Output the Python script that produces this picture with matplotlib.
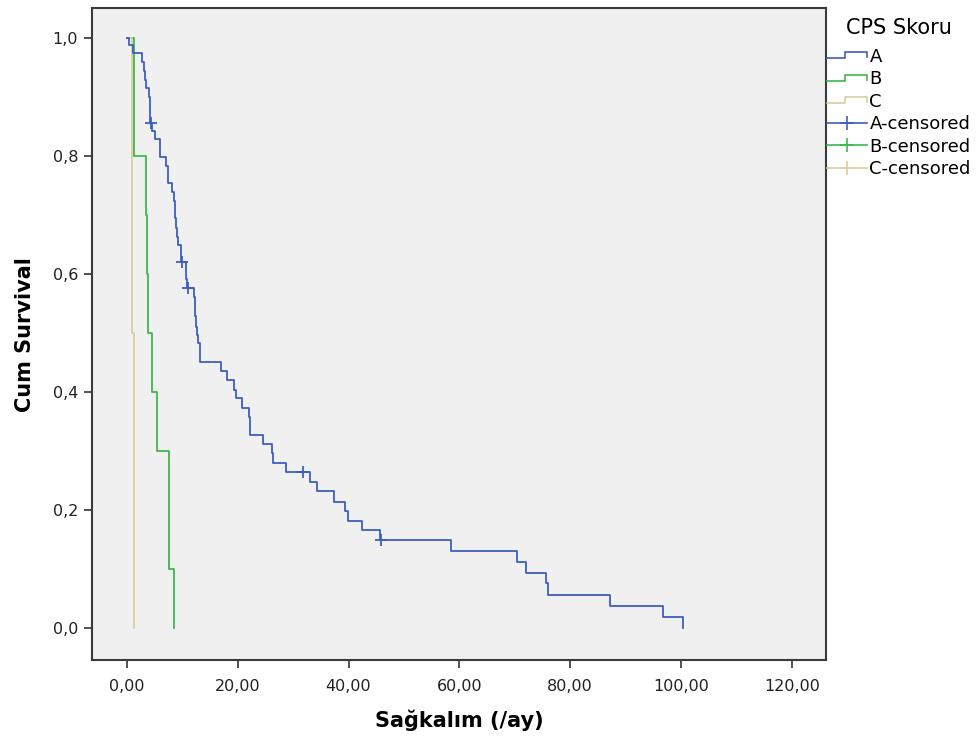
import matplotlib
matplotlib.use("Agg")
import matplotlib.pyplot as plt
from matplotlib.lines import Line2D
from matplotlib.legend_handler import HandlerBase

# Kaplan-Meier estimates: time of each drop and survival after the drop
a_times = [0.0, 0.4, 1.1, 2.7, 3.1, 3.2, 3.4, 4.0, 4.1, 4.2, 4.25, 4.5, 5.1,
           6.0, 6.05, 7.0, 7.4, 7.5, 8.1, 8.5, 8.6, 8.7, 8.85, 8.95, 9.2,
           9.75, 9.85, 10.6, 10.7, 10.85, 12.1, 12.2, 12.3, 12.45, 12.6, 12.9,
           13.15, 13.25, 17.0, 18.05, 19.3, 19.7, 20.8, 22.0, 22.2, 22.3, 24.5,
           26.2, 26.4, 28.7, 33.0, 34.3, 37.4, 39.4, 39.9, 42.4, 45.7, 58.5,
           70.4, 72.0, 75.6, 76.0, 87.2, 96.8, 100.4]
a_surv = [1.000, 0.988, 0.975, 0.959, 0.944, 0.929, 0.915, 0.900, 0.885,
          0.871, 0.856, 0.842, 0.829, 0.813, 0.798, 0.783, 0.768, 0.754,
          0.739, 0.724, 0.708, 0.695, 0.678, 0.663, 0.649, 0.634, 0.620,
          0.607, 0.592, 0.576, 0.561, 0.546, 0.529, 0.510, 0.497, 0.483,
          0.468, 0.451, 0.436, 0.420, 0.403, 0.390, 0.373, 0.358, 0.342,
          0.327, 0.312, 0.297, 0.280, 0.264, 0.247, 0.232, 0.214, 0.198,
          0.181, 0.166, 0.149, 0.130, 0.112, 0.093, 0.076, 0.057, 0.037,
          0.019, 0.000]
a_cens_t = [4.35, 9.9, 11.0, 31.8, 45.9]
a_cens_s = [0.856, 0.620, 0.576, 0.264, 0.149]

b_times = [0.0, 1.3, 3.4, 3.6, 3.8, 4.5, 5.4, 7.6, 8.5]
b_surv = [1.0, 0.8, 0.7, 0.6, 0.5, 0.4, 0.3, 0.1, 0.0]

c_times = [0.0, 0.85, 1.2]
c_surv = [1.0, 0.5, 0.0]

groups = ["A", "B", "C"]
colors = {"A": "#3d5ebf", "B": "#3fb84e", "C": "#d6cf9f"}

x_ticks = [0, 20, 40, 60, 80, 100, 120]
x_labels = ["0,00", "20,00", "40,00", "60,00", "80,00", "100,00", "120,00"]
y_ticks = [0.0, 0.2, 0.4, 0.6, 0.8, 1.0]
y_labels = ["0,0", "0,2", "0,4", "0,6", "0,8", "1,0"]


class StepHandler(HandlerBase):
    """Legend key drawn as a small survival-step line."""
    def create_artists(self, legend, orig_handle, xdescent, ydescent,
                       width, height, fontsize, trans):
        x0, y0 = -xdescent, -ydescent
        lo, hi = y0 + 0.25 * height, y0 + 0.75 * height
        xs = [x0, x0 + 0.45 * width, x0 + 0.45 * width, x0 + width, x0 + width]
        ys = [lo, lo, hi, hi, lo + 0.1 * height]
        ln = Line2D(xs, ys, color=orig_handle.get_color(), lw=1.2,
                    transform=trans)
        return [ln]


fig = plt.figure(figsize=(9.8, 7.42), dpi=100)
ax = fig.add_axes([0.0939, 0.1105, 0.749, 0.8785])
ax.set_facecolor("#f0f0f0")

series = {"A": (a_times, a_surv), "B": (b_times, b_surv), "C": (c_times, c_surv)}
step_handles = []
for g in groups:
    t, s = series[g]
    ln, = ax.step(t, s, where="post", color=colors[g], lw=1.3,
                  zorder=3 if g == "A" else 2)
    step_handles.append(ln)

ax.plot(a_cens_t, a_cens_s, ls="none", marker="+", ms=8, mew=1.3,
        color=colors["A"], zorder=4)

ax.set_xlim(-6.3, 126.2)
ax.set_ylim(-0.054, 1.051)
ax.set_xticks(x_ticks)
ax.set_xticklabels(x_labels, fontsize=11.5)
ax.set_yticks(y_ticks)
ax.set_yticklabels(y_labels, fontsize=11.5)
ax.tick_params(length=6, width=1.2, color="#333333", labelcolor="#222222")
ax.tick_params(axis="x", pad=8)
ax.tick_params(axis="y", pad=4)

for sp in ax.spines.values():
    sp.set_color("#3a3a3a")
    sp.set_linewidth(1.5)

ax.set_xlabel("Sağkalım (/ay)", fontsize=15, fontweight="bold", labelpad=11)
ax.set_ylabel("Cum Survival", fontsize=15, fontweight="bold", labelpad=13)

cens_handles = [Line2D([], [], color=colors[g], lw=1.2, marker="+", ms=10,
                       mew=1.2) for g in groups]
handles = step_handles + cens_handles
labels = groups + [g + "-censored" for g in groups]
leg = fig.legend(handles, labels, title="CPS Skoru", loc="upper left",
                 bbox_to_anchor=(0.8439, 0.976), frameon=False, fontsize=13,
                 title_fontsize=15, handlelength=2.2, handletextpad=0.15,
                 labelspacing=0.25, borderpad=0, borderaxespad=0,
                 handler_map={h: StepHandler() for h in step_handles})
leg._legend_box.sep = 7

fig.savefig("out.png", dpi=100, facecolor="white")
